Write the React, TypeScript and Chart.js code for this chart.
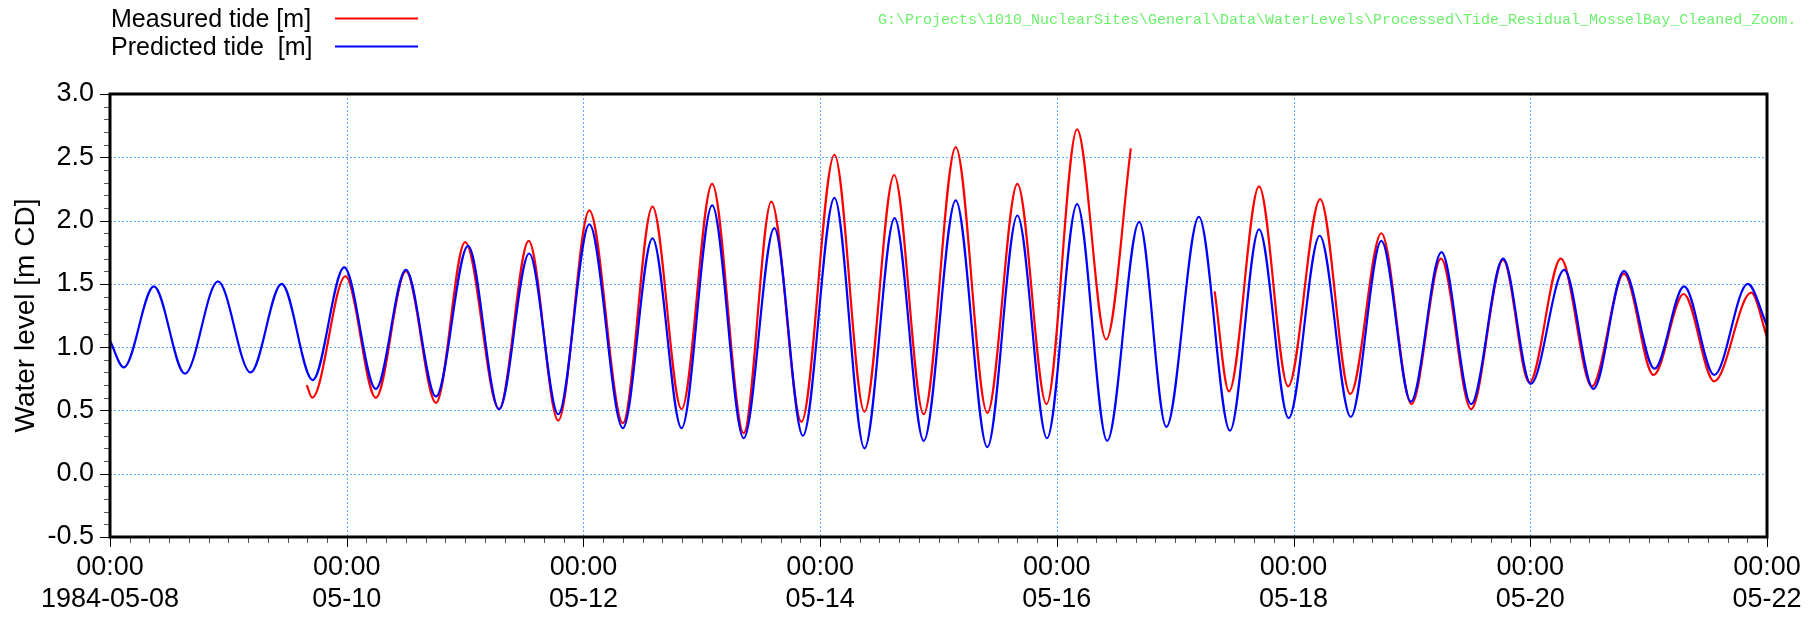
import { useEffect, useRef } from 'react';
import { Chart, registerables } from 'chart.js';

Chart.register(...registerables);

// Time axis: hours after 1984-05-08 00:00
const xStartHour = 0;
const xEndHour = 336;
const xMajorStep = 48;
const xMinorStep = 4;
const timeLabel = '00:00';
const dayLabels = ['1984-05-08', '05-10', '05-12', '05-14', '05-16', '05-18', '05-20', '05-22'];

// Water level axis [m CD]
const yMin = -0.5;
const yMax = 3.0;
const yMajorStep = 0.5;

// Predicted tide: times (hours) and levels of successive high / low waters
const predictedHours = [
  0, 2.8, 8.9, 15.2, 21.9, 28.5, 34.8, 41.1, 47.5, 53.9,
  60.0, 66.1, 72.6, 78.9, 85.0, 90.9, 97.2, 104.0, 110.0, 115.9,
  122.1, 128.5, 134.7, 140.5, 146.9, 153.0, 159.1, 165.0, 171.5, 177.9,
  184.0, 190.0, 196.1, 202.2, 208.7, 214.2, 220.8, 227.1, 233.0, 239.0,
  245.3, 251.6, 257.8, 263.8, 270.0, 276.0, 282.5, 288.1, 294.9, 300.8,
  307.0, 313.2, 319.2, 325.3, 332.1, 336.0,
];
const predictedLevels = [
  1.05, 0.84, 1.48, 0.79, 1.52, 0.80, 1.50, 0.74, 1.63, 0.67,
  1.61, 0.61, 1.80, 0.51, 1.74, 0.47, 1.97, 0.36, 1.86, 0.36,
  2.12, 0.28, 1.94, 0.30, 2.18, 0.20, 2.02, 0.26, 2.16, 0.21,
  2.04, 0.28, 2.13, 0.26, 1.99, 0.37, 2.03, 0.34, 1.93, 0.44,
  1.88, 0.45, 1.84, 0.57, 1.75, 0.55, 1.70, 0.71, 1.61, 0.67,
  1.60, 0.83, 1.48, 0.78, 1.50, 1.17,
];

// Measured tide (null marks the missing record)
const measuredHours = [
  39.9, 41.0, 47.75, 53.9, 60.0, 66.1, 72.0, 78.9, 84.9, 90.9,
  97.2, 104.0, 110.0, 115.9, 122.1, 128.5, 134.1, 140.2, 146.9, 153.0,
  159.0, 165.0, 171.5, 177.9, 184.0, 189.9, 196.1, 202.0, 207.0, 215.0,
  224.0, 226.9, 233.0, 238.9, 245.4, 251.5, 257.8, 263.9, 269.9, 276.0,
  282.5, 287.8, 294.2, 300.5, 307.0, 313.0, 319.1, 325.3, 332.8, 336.0,
];
const measuredLevels: (number | null)[] = [
  0.70, 0.60, 1.56, 0.60, 1.60, 0.56, 1.83, 0.51, 1.84, 0.42,
  2.08, 0.40, 2.11, 0.51, 2.29, 0.32, 2.15, 0.41, 2.52, 0.49,
  2.36, 0.47, 2.58, 0.48, 2.29, 0.55, 2.72, 1.06, 2.57, null,
  1.44, 0.65, 2.27, 0.69, 2.17, 0.63, 1.90, 0.55, 1.70, 0.51,
  1.69, 0.72, 1.70, 0.69, 1.58, 0.78, 1.42, 0.73, 1.43, 1.08,
];

const measuredName = 'Measured tide [m]';
const predictedName = 'Predicted tide  [m]';
const yTitle = 'Water level [m CD]';
const sourcePath =
  'G:\\Projects\\1010_NuclearSites\\General\\Data\\WaterLevels\\Processed\\Tide_Residual_MosselBay_Cleaned_Zoom.';

const SANS = '"Liberation Sans", Arial, Helvetica, sans-serif';
const MONO = '"Liberation Mono", "DejaVu Sans Mono", monospace';
const GRID_COLOR = 'rgb(95,172,255)';
const MEASURED_COLOR = '#ff0000';
const PREDICTED_COLOR = '#0000ff';

const decorations = {
  id: 'tideDecorations',
  beforeDatasetsDraw(chart: any) {
    const { ctx, chartArea: a, scales } = chart;
    const x = scales.x;
    const y = scales.y;
    ctx.save();
    ctx.strokeStyle = GRID_COLOR;
    ctx.lineWidth = 1;
    ctx.setLineDash([2, 2]);
    for (const t of x.ticks) {
      if (t.value <= xStartHour || t.value >= xEndHour) continue;
      const px = Math.round(x.getPixelForValue(t.value)) + 0.5;
      ctx.beginPath();
      ctx.moveTo(px, a.top);
      ctx.lineTo(px, a.bottom);
      ctx.stroke();
    }
    for (const t of y.ticks) {
      if (t.value <= yMin || t.value >= yMax) continue;
      const py = Math.round(y.getPixelForValue(t.value)) + 0.5;
      ctx.beginPath();
      ctx.moveTo(a.left, py);
      ctx.lineTo(a.right, py);
      ctx.stroke();
    }
    ctx.restore();
  },
  afterDatasetsDraw(chart: any) {
    const { ctx, chartArea: a, scales } = chart;
    const x = scales.x;
    const y = scales.y;
    ctx.save();
    ctx.setLineDash([]);
    // tick marks on the value axis, every 0.1 m
    for (let i = Math.round(yMin * 10); i <= Math.round(yMax * 10); i++) {
      const major = i % 5 === 0;
      const py = Math.round(y.getPixelForValue(i / 10)) + 0.5;
      ctx.strokeStyle = major ? '#000' : '#555';
      ctx.lineWidth = 1;
      ctx.beginPath();
      ctx.moveTo(a.left - (major ? 10 : 6), py);
      ctx.lineTo(a.left, py);
      ctx.stroke();
    }
    // tick marks on the time axis, every 4 hours
    for (let h = xStartHour; h <= xEndHour; h += xMinorStep) {
      const major = h % xMajorStep === 0;
      const px = Math.round(x.getPixelForValue(h)) + 0.5;
      ctx.strokeStyle = major ? '#000' : '#555';
      ctx.lineWidth = 1;
      ctx.beginPath();
      ctx.moveTo(px, a.bottom);
      ctx.lineTo(px, a.bottom + (major ? 10 : 6));
      ctx.stroke();
    }
    // plot frame
    ctx.strokeStyle = '#000';
    ctx.lineWidth = 3;
    ctx.strokeRect(a.left, a.top, a.right - a.left, a.bottom - a.top);
    ctx.restore();
  },
  afterDraw(chart: any) {
    const { ctx, chartArea: a } = chart;
    ctx.save();
    // legend
    ctx.fillStyle = '#000';
    ctx.font = `25px ${SANS}`;
    ctx.textAlign = 'left';
    ctx.textBaseline = 'alphabetic';
    ctx.fillText(measuredName, 111, 27);
    ctx.fillText(predictedName, 111, 55);
    ctx.lineWidth = 2;
    ctx.strokeStyle = MEASURED_COLOR;
    ctx.beginPath();
    ctx.moveTo(335, 18.5);
    ctx.lineTo(418, 18.5);
    ctx.stroke();
    ctx.strokeStyle = PREDICTED_COLOR;
    ctx.beginPath();
    ctx.moveTo(335, 46.5);
    ctx.lineTo(418, 46.5);
    ctx.stroke();
    // source file path
    ctx.font = `15px ${MONO}`;
    ctx.fillStyle = '#6cf06c';
    ctx.fillText(sourcePath, 878, 24);
    // value axis title
    ctx.fillStyle = '#000';
    ctx.font = `28px ${SANS}`;
    ctx.translate(26, (a.top + a.bottom) / 2);
    ctx.rotate(-Math.PI / 2);
    ctx.textAlign = 'center';
    ctx.textBaseline = 'middle';
    ctx.fillText(yTitle, 0, 0);
    ctx.restore();
  },
};

export default function App() {
  const canvasRef = useRef<HTMLCanvasElement>(null);

  useEffect(() => {
    const canvas = canvasRef.current;
    if (!canvas) return;
    const chart = new Chart(canvas, {
      type: 'line',
      data: {
        datasets: [
          {
            label: predictedName,
            data: predictedHours.map((h, i) => ({ x: h, y: predictedLevels[i] })),
            borderColor: PREDICTED_COLOR,
            borderWidth: 2.2,
            pointRadius: 0,
            fill: false,
            cubicInterpolationMode: 'monotone',
            order: 1,
          },
          {
            label: measuredName,
            data: measuredHours.map((h, i) => ({ x: h, y: measuredLevels[i] })),
            borderColor: MEASURED_COLOR,
            borderWidth: 2.2,
            pointRadius: 0,
            fill: false,
            spanGaps: false,
            cubicInterpolationMode: 'monotone',
            order: 2,
          },
        ],
      } as any,
      options: {
        animation: false,
        responsive: false,
        devicePixelRatio: 1,
        events: [],
        layout: { padding: { left: 0, right: 51, top: 94, bottom: 0 } },
        plugins: {
          legend: { display: false },
          tooltip: { enabled: false },
        },
        scales: {
          x: {
            type: 'linear',
            min: xStartHour,
            max: xEndHour,
            grid: { display: false, drawTicks: false },
            border: { display: false },
            ticks: {
              stepSize: xMajorStep,
              autoSkip: false,
              maxRotation: 0,
              minRotation: 0,
              padding: 14,
              color: '#000',
              font: { family: SANS, size: 27, lineHeight: 1.2 },
              callback: (_v: any, index: number) => [timeLabel, dayLabels[index]],
            },
            afterFit: (s: any) => {
              s.height = 81;
            },
          },
          y: {
            type: 'linear',
            min: yMin,
            max: yMax,
            grid: { display: false, drawTicks: false },
            border: { display: false },
            ticks: {
              stepSize: yMajorStep,
              padding: 16,
              color: '#000',
              font: { family: SANS, size: 27 },
              callback: (v: any) => Number(v).toFixed(1),
            },
            afterFit: (s: any) => {
              s.width = 110;
            },
          },
        },
      } as any,
      plugins: [decorations],
    });
    return () => chart.destroy();
  }, []);

  return (
    <div style={{ position: 'fixed', left: 0, top: 0, width: 1818, height: 618, background: '#fff' }}>
      <canvas ref={canvasRef} width={1818} height={618} style={{ display: 'block', width: 1818, height: 618 }} />
    </div>
  );
}
